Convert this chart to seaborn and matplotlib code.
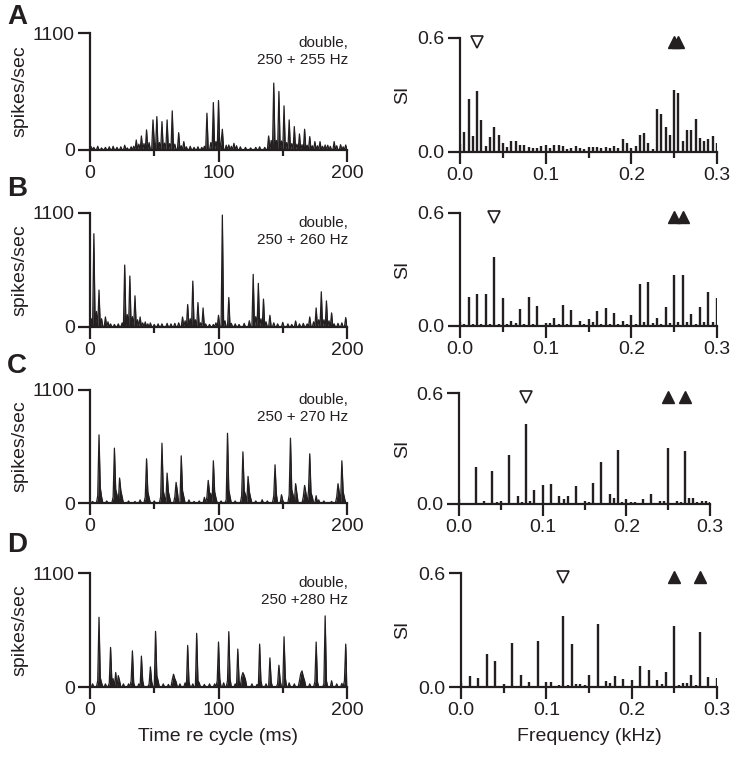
import numpy as np
import pandas as pd
import matplotlib
matplotlib.use("Agg")
import matplotlib.pyplot as plt
import seaborn as sns
from matplotlib.ticker import FixedLocator

sns.set_theme(style="ticks")
plt.rcParams['font.family'] = ['Liberation Sans', 'DejaVu Sans']

INK = '#231f20'
W, H = 736, 758

# ---------------- data ----------------
panel_letters = ['A', 'B', 'C', 'D']
stim_labels = ['double,\n250 + 255 Hz', 'double,\n250 + 260 Hz',
               'double,\n250 + 270 Hz', 'double,\n250 +280 Hz']

# PSTH main peaks (time in ms, rate in spikes/sec)
peaks_A_t = [36, 40, 44, 49, 52, 56, 60, 64, 69, 73, 91, 96, 100, 103, 108, 112,
             139, 143, 147, 151, 155, 159, 163, 167, 171, 175, 179, 183, 190, 199]
peaks_A_v = [94, 132, 189, 283, 314, 267, 283, 368, 163, 79, 346, 446, 465, 195, 47, 63,
             132, 629, 550, 415, 283, 220, 151, 195, 126, 79, 79, 47, 79, 47]
peaks_B_t = [3, 7, 12, 27, 31, 35, 39, 43, 47, 72, 76, 80, 84, 88, 100, 103, 108,
             127, 131, 135, 140, 160, 171, 176, 180, 184, 188, 199]
peaks_B_v = [900, 356, 97, 598, 492, 301, 97, 49, 39, 97, 217, 443, 236, 184, 113, 1080, 285,
             508, 421, 269, 113, 58, 97, 184, 340, 252, 136, 91]
peaks_C_t = [7, 19, 23, 44, 56, 60, 67, 71, 89, 92, 96, 107, 119, 123, 134, 144, 149,
             156, 160, 167, 171, 176, 193, 196]
peaks_C_v = [663, 534, 243, 430, 582, 291, 201, 459, 55, 220, 411, 679, 498, 259, 32, 372, 81,
             631, 188, 171, 479, 71, 188, 411]
peaks_D_t = [7, 16, 33, 40, 47, 51, 65, 76, 83, 100, 108, 115, 119, 132, 140, 147, 151,
             165, 176, 183, 199]
peaks_D_v = [673, 382, 349, 298, 194, 537, 123, 401, 518, 434, 534, 366, 139, 414, 281, 210, 485,
             155, 434, 686, 414]

# PSTH low-level activity (time in ms, rate in spikes/sec)
low_A_t = [1, 3, 6, 9, 12, 15, 18, 21, 24, 27, 29, 32, 34, 38, 42, 46, 50, 54, 58, 62,
           66, 71, 75, 78, 81, 84, 87, 89, 94, 98, 102, 106, 110, 114, 117, 121, 125, 129, 132, 136,
           141, 145, 149, 153, 157, 161, 165, 169, 173, 177, 181, 185, 187, 192, 195, 197]
low_A_v = [30, 25, 35, 20, 25, 30, 35, 25, 30, 45, 20, 30, 35, 55, 60, 70, 75, 70, 65, 60,
           55, 40, 30, 35, 25, 30, 25, 35, 70, 80, 70, 45, 35, 40, 30, 25, 20, 25, 30, 25,
           90, 90, 85, 70, 60, 55, 50, 45, 40, 40, 35, 45, 35, 40, 50, 30]
low_B_t = [1, 5, 9, 14, 16, 19, 22, 25, 29, 33, 37, 41, 45, 50, 53, 56, 60, 63, 66, 69,
           74, 78, 82, 86, 90, 93, 96, 98, 105, 110, 113, 116, 120, 124, 129, 133, 137, 143, 146, 150,
           154, 157, 163, 166, 169, 174, 178, 182, 186, 190, 193, 196]
low_B_v = [80, 150, 80, 50, 30, 25, 30, 40, 120, 100, 70, 40, 30, 25, 30, 30, 35, 30, 35, 40,
           60, 80, 70, 40, 30, 25, 25, 40, 60, 35, 30, 25, 35, 60, 100, 80, 50, 40, 30, 45,
           30, 25, 30, 35, 30, 50, 70, 70, 60, 30, 35, 40]
low_C_t = [2, 6, 8, 9, 13, 18, 20, 21, 24, 25, 30, 35, 39, 43, 45, 46, 50, 55, 57, 58,
           61, 62, 66, 68, 72, 73, 77, 81, 85, 91, 93, 94, 97, 98, 102, 106, 108, 109, 113, 118,
           120, 121, 124, 125, 129, 138, 143, 145, 150, 155, 157, 158, 161, 166, 168, 170, 172, 173,
           178, 182, 188, 192, 194, 197, 198]
low_C_v = [15, 70, 150, 60, 20, 60, 130, 80, 120, 60, 20, 15, 30, 60, 110, 50, 20, 60, 120, 60,
           110, 50, 60, 110, 120, 60, 30, 15, 20, 60, 100, 90, 110, 50, 20, 30, 130, 60, 20, 70,
           120, 80, 110, 50, 20, 20, 70, 90, 25, 80, 130, 80, 90, 60, 100, 110, 100, 60,
           30, 20, 15, 60, 100, 110, 50]
low_D_t = [2, 6, 8, 9, 12, 15, 17, 18, 20, 22, 23, 26, 30, 32, 34, 38, 41, 46, 48, 52,
           53, 57, 61, 64, 66, 67, 70, 74, 77, 80, 84, 85, 89, 93, 97, 99, 101, 104, 107, 109,
           113, 116, 118, 120, 121, 126, 130, 133, 137, 141, 146, 148, 152, 155, 159, 163, 164, 166,
           167, 171, 175, 177, 182, 184, 188, 192, 196, 198]
low_D_v = [30, 60, 90, 40, 30, 40, 60, 80, 140, 110, 60, 30, 30, 60, 40, 30, 60, 30, 50, 110,
           60, 30, 25, 70, 80, 50, 30, 40, 50, 30, 60, 40, 25, 30, 30, 60, 80, 40, 60, 80,
           30, 60, 100, 110, 70, 30, 25, 60, 30, 50, 30, 60, 90, 40, 30, 60, 130, 100,
           60, 30, 50, 50, 30, 60, 60, 30, 35, 60]

# Synchronization index spectrum, 0 to 0.3 kHz in 0.005 kHz steps
freq_khz = [round(0.005 * i, 3) for i in range(61)]
si_A = [0.04, 0.106, 0.28, 0.083, 0.32, 0.17, 0.03, 0.08, 0.13, 0.09,
        0.045, 0.025, 0.06, 0.06, 0.035, 0.035, 0.025, 0.02, 0.02, 0.03,
        0.035, 0.02, 0.035, 0.035, 0.03, 0.015, 0.02, 0.03, 0.02, 0.015,
        0.025, 0.025, 0.025, 0.02, 0.025, 0.02, 0.03, 0.02, 0.07, 0.045,
        0.02, 0.03, 0.09, 0.10, 0.045, 0.015, 0.224, 0.20, 0.13, 0.09,
        0.326, 0.31, 0.058, 0.115, 0.118, 0.176, 0.076, 0.058, 0.07, 0.083,
        0.048]
si_B = [0.023, 0.01, 0.156, 0.01, 0.169, 0.008, 0.169, 0.01, 0.364, 0.012,
        0.151, 0.008, 0.027, 0.015, 0.089, 0.01, 0.154, 0.01, 0.107, 0.006,
        0.014, 0.015, 0.044, 0.008, 0.11, 0.01, 0.085, 0.006, 0.027, 0.01,
        0.037, 0.02, 0.08, 0.01, 0.098, 0.01, 0.071, 0.01, 0.027, 0.01,
        0.057, 0.012, 0.222, 0.02, 0.233, 0.015, 0.044, 0.012, 0.101, 0.015,
        0.272, 0.02, 0.272, 0.02, 0.066, 0.012, 0.101, 0.02, 0.183, 0.02,
        0.151]
si_C = [0.027, 0.005, 0.005, 0.005, 0.198, 0.005, 0.014, 0.005, 0.177, 0.01,
        0.014, 0.005, 0.267, 0.005, 0.041, 0.01, 0.432, 0.014, 0.077, 0.005,
        0.105, 0.005, 0.108, 0.005, 0.045, 0.027, 0.045, 0.005, 0.099, 0.005,
        0.018, 0.01, 0.114, 0.005, 0.225, 0.005, 0.054, 0.032, 0.294, 0.01,
        0.027, 0.01, 0.009, 0.005, 0.027, 0.005, 0.054, 0.005, 0.018, 0.018,
        0.303, 0.005, 0.014, 0.01, 0.285, 0.032, 0.032, 0.01, 0.018, 0.014,
        0.009]
si_D = [0.02, 0.005, 0.058, 0.005, 0.049, 0.005, 0.173, 0.005, 0.138, 0.005,
        0.014, 0.005, 0.229, 0.005, 0.065, 0.005, 0.025, 0.005, 0.242, 0.005,
        0.025, 0.025, 0.005, 0.01, 0.374, 0.01, 0.226, 0.014, 0.018, 0.01,
        0.062, 0.005, 0.33, 0.005, 0.03, 0.02, 0.056, 0.005, 0.044, 0.005,
        0.039, 0.005, 0.109, 0.005, 0.088, 0.005, 0.039, 0.014, 0.079, 0.005,
        0.321, 0.01, 0.021, 0.021, 0.065, 0.01, 0.288, 0.005, 0.053, 0.005,
        0.048]

# triangle markers (kHz): open = envelope-related, filled = components
open_marker_f = [0.02, 0.04, 0.08, 0.12]
filled_marker_f = [[0.25, 0.255], [0.25, 0.26], [0.25, 0.27], [0.25, 0.28]]
marker_level = 0.58

peaks_t = [peaks_A_t, peaks_B_t, peaks_C_t, peaks_D_t]
peaks_v = [peaks_A_v, peaks_B_v, peaks_C_v, peaks_D_v]
low_t = [low_A_t, low_B_t, low_C_t, low_D_t]
low_v = [low_A_v, low_B_v, low_C_v, low_D_v]
si_all = [si_A, si_B, si_C, si_D]

# ---------------- layout (pixel boxes: x0, x1, ytop, ybottom) ----------------
left_boxes = [(90, 347, 33, 150), (90, 347, 213, 327), (90, 347, 390, 503), (90, 347, 573, 687)]
right_boxes = [(460, 717, 38, 152), (460, 717, 213, 326), (459, 710, 393, 504), (461, 717, 573, 687)]
letter_y = [17, 189, 366, 545]


def rect(b):
    x0, x1, yt, yb = b
    return [x0 / W, 1 - yb / H, (x1 - x0) / W, (yb - yt) / H]


def style_axis(ax):
    sns.despine(ax=ax)
    for s in ('left', 'bottom'):
        ax.spines[s].set_linewidth(1.6)
        ax.spines[s].set_color(INK)
    ax.tick_params(which='major', length=8.5, width=1.6, color=INK, labelsize=14,
                   pad=2.5, labelcolor=INK, direction='out')
    ax.tick_params(which='minor', length=4, width=1.6, color=INK, direction='out')
    ax.tick_params(axis='y', which='minor', length=0)
    ax.set_facecolor('none')
    ax.grid(False)


fig = plt.figure(figsize=(W / 100, H / 100), dpi=100)
fig.patch.set_facecolor('white')

time_ms = np.arange(0, 201)

for i in range(4):
    # ---------- PSTH ----------
    ax = fig.add_axes(rect(left_boxes[i]))
    rate = np.zeros(len(time_ms))
    for t, v in zip(low_t[i], low_v[i]):
        rate[t] = max(rate[t], v)
    for t, v in zip(peaks_t[i], peaks_v[i]):
        rate[t] = max(rate[t], v)
    df = pd.DataFrame({'t': time_ms, 'rate': rate})
    ax.fill_between(df['t'], 0, df['rate'], color=INK, linewidth=0, zorder=2)
    sns.lineplot(data=df, x='t', y='rate', ax=ax, color=INK, linewidth=0.9,
                 estimator=None, zorder=2)
    ax.set_xlim(0, 200)
    ax.set_ylim(0, 1100)
    ax.xaxis.set_major_locator(FixedLocator([0, 100, 200]))
    ax.xaxis.set_minor_locator(FixedLocator([50, 150]))
    ax.set_xticklabels(['0', '100', '200'])
    ax.yaxis.set_major_locator(FixedLocator([0, 1100]))
    ax.set_yticklabels(['0', '1100'])
    style_axis(ax)
    ax.set_ylabel('spikes/sec', fontsize=14, color=INK)
    ax.yaxis.set_label_coords((28 - 90) / 257, 0.5)
    if i == 3:
        ax.set_xlabel('Time re cycle (ms)', fontsize=14, color=INK, labelpad=6)
    else:
        ax.set_xlabel('')
    ax.annotate(stim_labels[i], xy=(1, 1), xycoords='axes fraction',
                xytext=(1, -2.5), textcoords='offset points', ha='right', va='top',
                fontsize=11, color=INK, linespacing=1.2)
    fig.text(17 / W, 1 - letter_y[i] / H, panel_letters[i], fontsize=20, fontweight='bold',
             color=INK, ha='center', va='center')

    # ---------- SI spectrum ----------
    ax2 = fig.add_axes(rect(right_boxes[i]))
    ax2.vlines(freq_khz, 0, si_all[i], color=INK, linewidth=1.7, zorder=2)
    ax2.set_xlim(0, 0.3)
    ax2.set_ylim(0, 0.6)
    ax2.plot([open_marker_f[i]], [marker_level], marker='v', ms=8, mfc='white', mec=INK,
             mew=1.2, ls='none', clip_on=False)
    ax2.plot(filled_marker_f[i], [marker_level] * 2, marker='^', ms=8, mfc=INK, mec=INK,
             mew=1.0, ls='none', clip_on=False)
    ax2.xaxis.set_major_locator(FixedLocator([0, 0.1, 0.2, 0.3]))
    ax2.xaxis.set_minor_locator(FixedLocator([0.05, 0.15, 0.25]))
    ax2.set_xticklabels(['0.0', '0.1', '0.2', '0.3'])
    ax2.yaxis.set_major_locator(FixedLocator([0, 0.6]))
    ax2.set_yticklabels(['0.0', '0.6'])
    style_axis(ax2)
    ax2.set_ylabel('SI', fontsize=14, color=INK)
    ax2.yaxis.set_label_coords((411 - right_boxes[i][0]) / (right_boxes[i][1] - right_boxes[i][0]), 0.5)
    if i == 3:
        ax2.set_xlabel('Frequency (kHz)', fontsize=14, color=INK, labelpad=6)

fig.savefig('out.png', dpi=100, facecolor='white')
